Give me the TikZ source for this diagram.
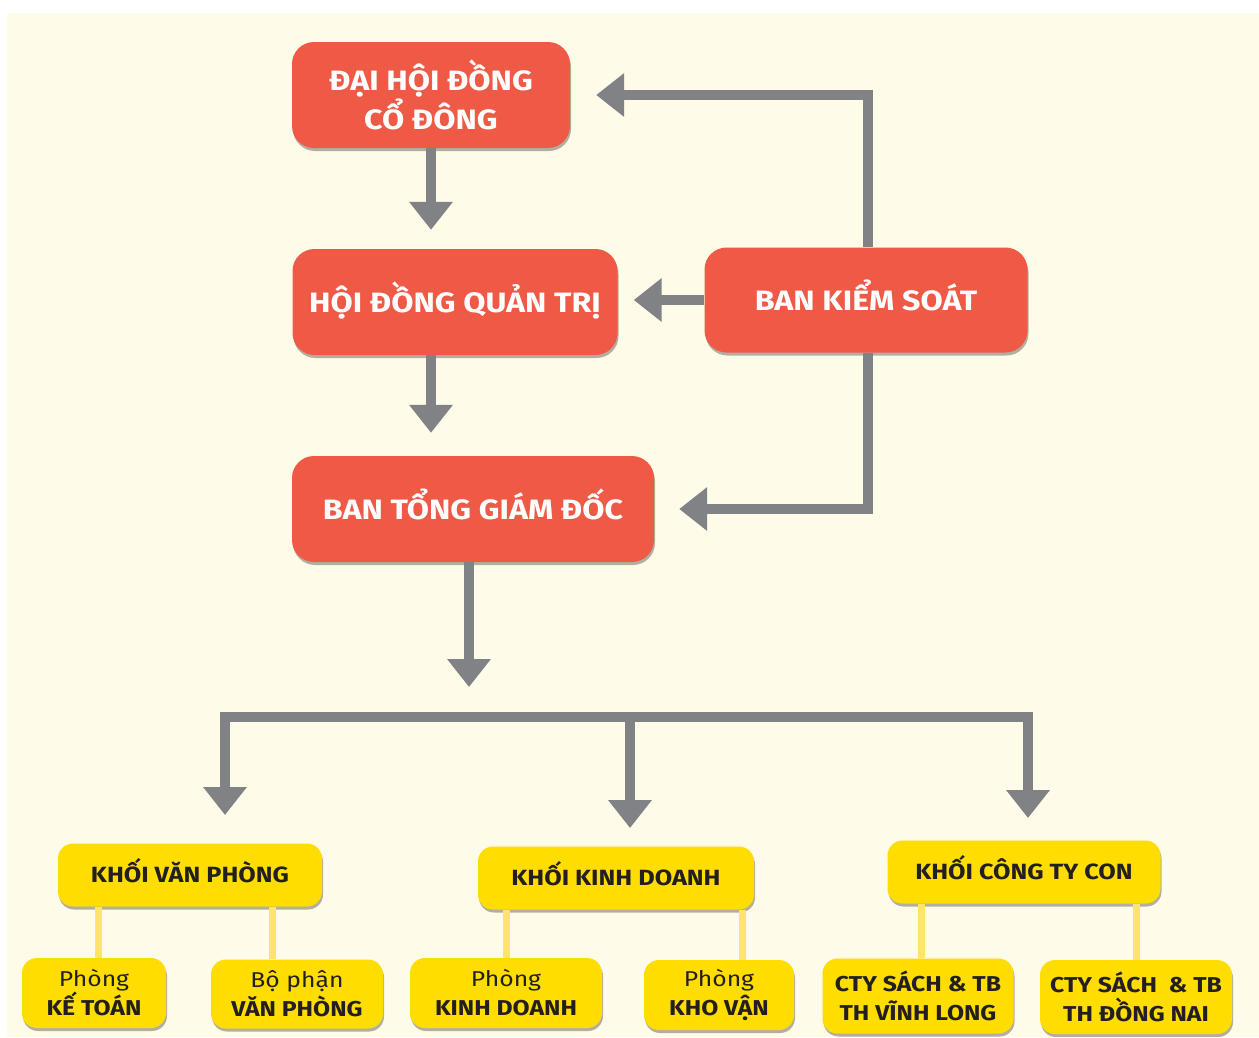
\documentclass[tikz,border=0pt]{standalone}
\usepackage{fontspec}
\setmainfont{Fira Sans}[FakeStretch=1.15]
\usetikzlibrary{shadows,arrows.meta}
\definecolor{bgc}{HTML}{FFFBE9}
\definecolor{redc}{HTML}{EF5A46}
\definecolor{yelc}{HTML}{FFDD00}
\definecolor{arrc}{HTML}{808285}
\definecolor{ylinec}{HTML}{FFE46B}
\definecolor{txtc}{HTML}{231F20}
\begin{document}
\begin{tikzpicture}[x=1pt,y=-1pt,
  redbox/.style={fill=redc, rounded corners=22pt, text=white,
    font=\fontsize{28}{37}\selectfont\bfseries, align=center, inner sep=0pt,
    drop shadow={shadow xshift=1pt,shadow yshift=-3pt,fill=black,opacity=0.3}},
  redone/.style={redbox, text height=20pt, text depth=0pt},
  ybox/.style={fill=yelc, rounded corners=15pt, text=txtc,
    font=\fontsize{21.5}{29}\selectfont, align=center, inner sep=0pt,
    drop shadow={shadow xshift=1pt,shadow yshift=-3pt,fill=black,opacity=0.3}},
  yhead/.style={ybox, font=\fontsize{22}{26}\selectfont\bfseries, text height=15pt, text depth=0pt},
  garrow/.style={draw=arrc, line width=10pt, -{Triangle[width=42pt,length=28pt]}},
  yline/.style={draw=ylinec, line width=7pt}]
\useasboundingbox (0,0) rectangle (1259,1037);
\fill[bgc] (7,13) rectangle (1259,1037);

\coordinate (b1) at (225,717);
\coordinate (b2) at (630,717);
\coordinate (b3) at (1028,717);
\coordinate (t1) at (225,815);
\coordinate (t2) at (630,828);
\coordinate (t3) at (1028,818);
\coordinate (tb) at (469,687);

% red boxes
\node[redbox, minimum width=278pt, minimum height=106pt] (dh) at (431,95) {ĐẠI HỘI ĐỒNG\\CỔ ĐÔNG};
\node[redone, minimum width=325pt, minimum height=106pt] (hd) at (455,302) {HỘI ĐỒNG QUẢN TRỊ};
\node[redone, minimum width=323pt, minimum height=105pt] (bks) at (866,300) {BAN KIỂM SOÁT};
\node[redone, minimum width=362pt, minimum height=106pt] (bt) at (473,509) {BAN TỔNG GIÁM ĐỐC};

% gray arrows
\draw[garrow, shorten >=19pt] (dh.south) -- (dh.south |- hd.north);
\draw[garrow, shorten >=23pt] (hd.south -| dh.south) -- (dh.south |- bt.north);
\draw[garrow, shorten >=16pt] (bks.west) -- (hd.east |- bks.west);
\draw[garrow, shorten >=26pt] ([xshift=2pt]bks.north) |- (dh.east);
\draw[garrow, shorten >=25pt] ([xshift=2pt]bks.south) |- (bt.east);
\draw[garrow] (bt.south -| tb) -- (tb);
\draw[draw=arrc, line width=10pt, line join=miter,
  {Triangle[width=42pt,length=28pt]}-{Triangle[width=42pt,length=28pt]}]
  (t1) -- (b1) -- (b3) -- (t3);
\draw[garrow] (b2) -- (t2);

% yellow boxes
\node[yhead, minimum width=264pt, minimum height=63pt] (kvp) at (190,875) {KHỐI VĂN PHÒNG};
\node[yhead, minimum width=276pt, minimum height=63pt] (kkd) at (616,878) {KHỐI KINH DOANH};
\node[yhead, minimum width=273pt, minimum height=63pt] (kct) at (1024,872) {KHỐI CÔNG TY CON};

\node[ybox, minimum width=144pt, minimum height=70pt] (kt) at (94,993) {Phòng\\\textbf{KẾ TOÁN}};
\node[ybox, minimum width=172pt, minimum height=69pt] (bp) at (297,994) {Bộ phận\\\textbf{VĂN PHÒNG}};
\node[ybox, minimum width=192pt, minimum height=70pt] (pkd) at (506,993) {Phòng\\\textbf{KINH DOANH}};
\node[ybox, minimum width=150pt, minimum height=70pt] (pkv) at (719,995) {Phòng\\\textbf{KHO VẬN}};
\node[ybox, minimum width=191pt, minimum height=75pt] (vl) at (918,996) {\textbf{CTY SÁCH \& TB}\\\textbf{TH VĨNH LONG}};
\node[ybox, minimum width=192pt, minimum height=74pt] (dn) at (1136,997) {\textbf{CTY SÁCH \ \& TB}\\\textbf{TH ĐỒNG NAI}};

% yellow connectors
\draw[yline] ([xshift=4pt]kt.north) -- ([xshift=4pt]kt.north |- kvp.south);
\draw[yline] ([xshift=-25pt]bp.north) -- ([xshift=-25pt]bp.north |- kvp.south);
\draw[yline] (pkd.north) -- (pkd.north |- kkd.south);
\draw[yline] ([xshift=23pt]pkv.north) -- ([xshift=23pt]pkv.north |- kkd.south);
\draw[yline] ([xshift=3pt]vl.north) -- ([xshift=3pt]vl.north |- kct.south);
\draw[yline] (dn.north) -- (dn.north |- kct.south);
\end{tikzpicture}
\end{document}
